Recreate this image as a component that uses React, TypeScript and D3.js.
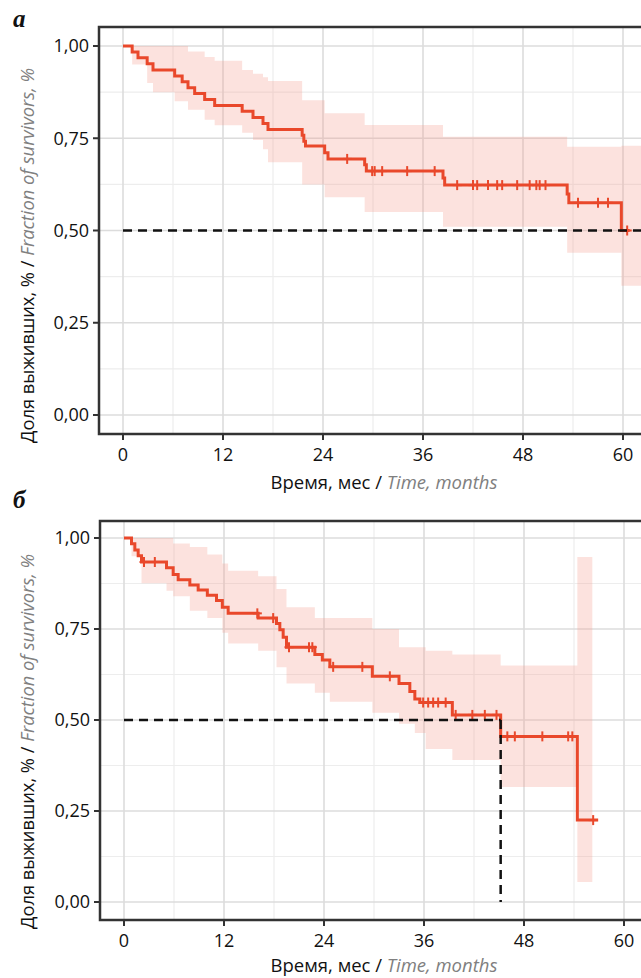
import React from 'react';
import * as d3 from 'd3';

const xTicks = [0, 12, 24, 36, 48, 60];
const xMinor = [6, 18, 30, 42, 54];
const yTicks = [0, 0.25, 0.5, 0.75, 1];
const yMinor = [0.125, 0.375, 0.625, 0.875];
const yTickLabels = ['0,00', '0,25', '0,50', '0,75', '1,00'];

// Panel а
const timeA = [0, 1.1, 1.8, 2.9, 3.6, 6.2, 7.1, 7.8, 8.6, 9.8, 11.0, 14.3, 15.6, 16.8, 17.4, 21.5, 21.7, 21.9, 24.2, 24.6, 29.0, 29.2, 38.4, 38.6, 53.3, 53.5, 59.8];
const survA = [1, 0.984, 0.968, 0.952, 0.935, 0.919, 0.903, 0.887, 0.871, 0.855, 0.839, 0.823, 0.806, 0.79, 0.774, 0.758, 0.742, 0.729, 0.711, 0.694, 0.678, 0.661, 0.642, 0.623, 0.599, 0.575, 0.5];
const endA = 60.8;
const censA = [26.9, 29.9, 30.2, 31.1, 34.1, 37.4, 40.1, 42.0, 42.5, 43.8, 44.9, 45.5, 47.3, 48.8, 49.6, 50.0, 50.7, 54.6, 57.0, 58.2, 60.5];
const ciTimeA = [0, 1.1, 2.9, 3.6, 6.2, 7.8, 9.8, 11.0, 14.3, 15.6, 16.8, 17.4, 21.5, 24.2, 29.0, 38.4, 53.3, 59.8];
const ciLowA = [1, 0.95, 0.9, 0.875, 0.85, 0.827, 0.8, 0.785, 0.765, 0.745, 0.72, 0.685, 0.625, 0.59, 0.55, 0.51, 0.44, 0.35];
const ciUpA = [1, 1, 1, 1, 1, 0.985, 0.97, 0.96, 0.935, 0.925, 0.915, 0.905, 0.853, 0.818, 0.786, 0.754, 0.727, 0.73];
const ciEndA = 63;

// Panel б
const timeB = [0, 0.9, 1.3, 1.7, 2.1, 5.1, 5.9, 6.5, 7.9, 8.9, 10.0, 11.1, 11.8, 12.5, 16.1, 18.3, 18.7, 19.1, 19.5, 22.9, 23.8, 24.7, 29.8, 33.0, 34.3, 34.9, 35.5, 39.4, 45.2, 54.4];
const survB = [1, 0.984, 0.967, 0.951, 0.934, 0.918, 0.9, 0.885, 0.871, 0.857, 0.843, 0.828, 0.81, 0.793, 0.78, 0.765, 0.748, 0.727, 0.7, 0.68, 0.665, 0.646, 0.62, 0.6, 0.578, 0.558, 0.548, 0.514, 0.455, 0.225];
const endB = 56.9;
const censB = [2.4, 3.7, 16.0, 17.9, 19.8, 22.2, 22.6, 25.1, 28.6, 31.9, 35.9, 36.5, 37.1, 37.7, 38.6, 39.8, 41.8, 43.3, 44.7, 46.0, 46.9, 50.2, 53.3, 53.8, 56.3];
const ciTimeB = [0, 0.9, 2.1, 5.1, 5.9, 7.9, 10.0, 11.8, 12.5, 16.1, 18.3, 19.5, 22.9, 24.7, 29.8, 33.0, 34.9, 36.2, 39.4, 45.2, 54.4];
const ciLowB = [1, 0.95, 0.876, 0.855, 0.84, 0.8, 0.78, 0.74, 0.71, 0.69, 0.645, 0.6, 0.575, 0.55, 0.52, 0.49, 0.464, 0.42, 0.39, 0.316, 0.055];
const ciUpB = [1, 1, 1, 1, 0.985, 0.975, 0.955, 0.93, 0.91, 0.895, 0.86, 0.81, 0.78, 0.78, 0.75, 0.7, 0.7, 0.69, 0.68, 0.65, 0.948];
const ciEndB = 56.2;
const medianB = 45.2;

const RED = '#E9482B';
const FONT = "'Open Sans', 'Noto Sans', sans-serif";

type Cfg = {
  label: string; labelY: number;
  L: number; T: number; B: number; R: number;
  x0: number; x60: number; y0: number; y1: number;
  time: number[]; surv: number[]; end: number; cens: number[];
  ciTime: number[]; ciLow: number[]; ciUp: number[]; ciEnd: number;
  median: number | null; xTitleY: number;
};

function Panel({ c }: { c: Cfg }) {
  const x = d3.scaleLinear().domain([0, 60]).range([c.x0, c.x60]);
  const y = d3.scaleLinear().domain([0, 1]).range([c.y0, c.y1]);
  const pts: [number, number][] = c.time.map((t, i) => [t, c.surv[i]]);
  pts.push([c.end, c.surv[c.surv.length - 1]]);
  const line = d3.line<[number, number]>().x(d => x(d[0])).y(d => y(d[1])).curve(d3.curveStepAfter);
  const ci: [number, number, number][] = c.ciTime.map((t, i) => [t, c.ciLow[i], c.ciUp[i]]);
  ci.push([c.ciEnd, c.ciLow[c.ciLow.length - 1], c.ciUp[c.ciUp.length - 1]]);
  const area = d3.area<[number, number, number]>().x(d => x(d[0])).y0(d => y(d[1])).y1(d => y(d[2])).curve(d3.curveStepAfter);
  const survAt = (t: number) => { let s = 1; c.time.forEach((tt, i) => { if (tt <= t) s = c.surv[i]; }); return s; };
  return (
    <g>
      {/* grid */}
      {xMinor.map(v => <line key={'xm' + v} x1={x(v)} x2={x(v)} y1={c.T} y2={c.B} stroke="#ededed" strokeWidth={1.2} />)}
      {yMinor.map(v => <line key={'ym' + v} x1={c.L} x2={c.R} y1={y(v)} y2={y(v)} stroke="#ededed" strokeWidth={1.2} />)}
      {xTicks.map(v => <line key={'xg' + v} x1={x(v)} x2={x(v)} y1={c.T} y2={c.B} stroke="#dcdcdc" strokeWidth={1.6} />)}
      {yTicks.map(v => <line key={'yg' + v} x1={c.L} x2={c.R} y1={y(v)} y2={y(v)} stroke="#dcdcdc" strokeWidth={1.6} />)}
      {/* ribbon */}
      <path d={area(ci) || ''} fill="#F5A093" fillOpacity={0.3} />
      {/* curve */}
      <path d={line(pts) || ''} fill="none" stroke={RED} strokeWidth={3} />
      {c.cens.map((t, i) => {
        const cx = x(t), cy = y(survAt(t));
        return <g key={'c' + i} stroke={RED} strokeWidth={2}>
          <line x1={cx} x2={cx} y1={cy - 5} y2={cy + 5} />
          <line x1={cx - 4.5} x2={cx + 4.5} y1={cy} y2={cy} />
        </g>;
      })}
      {/* median lines */}
      <line x1={x(0)} x2={c.median === null ? c.R : x(c.median)} y1={y(0.5)} y2={y(0.5)} stroke="#111" strokeWidth={2.5} strokeDasharray="9,6" />
      {c.median !== null && <line x1={x(c.median)} x2={x(c.median)} y1={y(0.5)} y2={y(0)} stroke="#111" strokeWidth={2.5} strokeDasharray="9,6" />}
      {/* frame */}
      <rect x={c.L} y={c.T} width={c.R - c.L} height={c.B - c.T} fill="none" stroke="#333" strokeWidth={2.5} />
      {/* ticks */}
      {yTicks.map((v, i) => <g key={'yt' + v}>
        <line x1={c.L - 6} x2={c.L} y1={y(v)} y2={y(v)} stroke="#333" strokeWidth={2} />
        <text x={c.L - 10} y={y(v)} dy="0.36em" textAnchor="end" fontFamily={FONT} fontSize={18} fill="#111">{yTickLabels[i]}</text>
      </g>)}
      {xTicks.map(v => <g key={'xt' + v}>
        <line x1={x(v)} x2={x(v)} y1={c.B} y2={c.B + 6} stroke="#333" strokeWidth={2} />
        <text x={x(v)} y={c.B + 27} textAnchor="middle" fontFamily={FONT} fontSize={18} fill="#111">{v}</text>
      </g>)}
      {/* axis titles */}
      <text x={384} y={c.xTitleY} textAnchor="middle" fontFamily={FONT} fontSize={18.5} fill="#111">
        Время, мес / <tspan fontStyle="italic" fill="#808080">Time, months</tspan>
      </text>
      <text transform={`translate(34, ${c.B + 9}) rotate(-90)`} textAnchor="start" fontFamily={FONT} fontSize={18.3} fill="#111">
        Доля выживших, % / <tspan fontStyle="italic" fill="#808080">Fraction of survivors, %</tspan>
      </text>
      {/* panel letter */}
      <text x={13} y={c.labelY} fontFamily="'Liberation Serif', 'DejaVu Serif', serif" fontWeight="bold" fontStyle="italic" fontSize={25} fill="#111">{c.label}</text>
    </g>
  );
}

const panelA: Cfg = {
  label: 'а', labelY: 27,
  L: 99, T: 27, B: 434, R: 648,
  x0: 123, x60: 623, y0: 415, y1: 46,
  time: timeA, surv: survA, end: endA, cens: censA,
  ciTime: ciTimeA, ciLow: ciLowA, ciUp: ciUpA, ciEnd: ciEndA,
  median: null, xTitleY: 489,
};

const panelB: Cfg = {
  label: 'б', labelY: 508,
  L: 100, T: 521, B: 920, R: 648,
  x0: 124, x60: 624, y0: 902, y1: 538,
  time: timeB, surv: survB, end: endB, cens: censB,
  ciTime: ciTimeB, ciLow: ciLowB, ciUp: ciUpB, ciEnd: ciEndB,
  median: medianB, xTitleY: 972,
};

export default function App() {
  return (
    <svg width={641} height={978} style={{ position: 'absolute', left: 0, top: 0, background: '#fff' }}>
      <rect width={641} height={978} fill="#fff" />
      <Panel c={panelA} />
      <Panel c={panelB} />
    </svg>
  );
}
